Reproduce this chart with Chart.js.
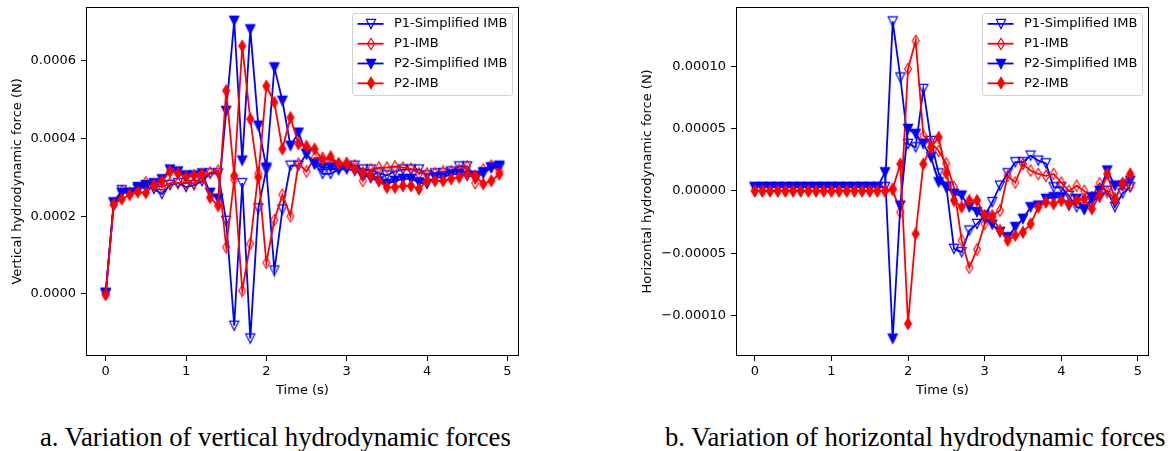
<!DOCTYPE html>
<html><head><meta charset="utf-8">
<script src="https://cdn.jsdelivr.net/npm/chart.js@4.4.1/dist/chart.umd.min.js"></script>
<style>
html,body{margin:0;padding:0;background:#fff;}
#wrap{position:relative;width:1171px;height:451px;overflow:hidden;background:#fff;}
canvas{position:absolute;top:0;}
#c1{left:0;}
#c2{left:600px;}
.cap{position:absolute;font-family:'Liberation Serif','Times New Roman',serif;font-size:26.7px;white-space:nowrap;color:#000;line-height:30px;}
</style></head><body>
<div id="wrap">
<canvas id="c1" width="560" height="410"></canvas>
<canvas id="c2" width="571" height="410"></canvas>
<div class="cap" style="left:40px;top:422px;">a. Variation of vertical hydrodynamic forces</div>
<div class="cap" style="left:665px;top:422px;">b. Variation of horizontal hydrodynamic forces</div>
</div>
<script>
// ---- data ----
const times = [0.0,0.1,0.2,0.3,0.4,0.5,0.6,0.7,0.8,0.9,1.0,1.1,1.2,1.3,1.4,1.5,1.6,1.7,1.8,1.9,2.0,2.1,2.2,2.3,2.4,2.5,2.6,2.7,2.8,2.9,3.0,3.1,3.2,3.3,3.4,3.5,3.6,3.7,3.8,3.9,4.0,4.1,4.2,4.3,4.4,4.5,4.6,4.7,4.8,4.9];
const seriesNames = ['P1-Simplified IMB','P1-IMB','P2-Simplified IMB','P2-IMB'];
const xTickValues = [0,1,2,3,4,5];
const xTickLabels = ['0','1','2','3','4','5'];
const vertTickValues = [0,0.0002,0.0004,0.0006];
const vertTickLabels = ['0.0000','0.0002','0.0004','0.0006'];
const horzTickValues = [-0.0001,-0.00005,0,0.00005,0.0001];
const horzTickLabels = ['\u22120.00010','\u22120.00005','0.00000','0.00005','0.00010'];

// vertical force, values in units of 1e-4 N
const vertUnit = 1e-4;
const vertP1Simplified = [0.0,2.35,2.67,2.6,2.7,2.75,2.7,2.57,2.8,2.85,2.75,2.8,2.9,3.1,3.1,1.88,-0.82,2.85,-1.15,2.2,3.2,0.6,2.17,3.3,3.3,3.6,3.35,3.09,3.09,3.2,3.25,3.3,3.2,3.2,3.1,3.05,3.15,3.2,3.2,3.2,3.05,3.1,3.1,3.15,3.28,3.28,3.0,3.1,3.25,3.25];
const vertP1IMB = [0.0,2.3,2.65,2.6,2.7,2.87,2.8,2.75,2.85,2.85,2.85,2.85,3.0,3.12,3.17,1.2,2.95,0.08,1.29,3.1,0.8,1.9,2.55,2.0,3.35,3.15,3.5,3.5,3.45,3.35,3.37,3.3,2.91,3.2,3.25,3.25,3.28,3.25,3.22,3.1,3.1,3.1,3.15,3.15,3.2,3.28,2.85,3.2,3.3,3.15];
const vertP2Simplified = [0.03,2.35,2.6,2.6,2.75,2.8,2.85,2.95,3.2,3.15,3.05,3.05,3.1,2.6,2.45,4.71,7.03,3.43,6.81,4.33,3.25,5.83,4.97,3.81,4.15,3.6,3.34,3.25,3.25,3.2,3.21,3.17,3.08,2.98,2.9,2.83,2.91,2.96,2.96,2.87,2.83,3.0,3.0,3.08,3.08,3.04,3.04,3.13,3.25,3.3];
const vertP2IMB = [-0.02,2.3,2.44,2.55,2.62,2.6,2.8,2.9,3.15,3.1,3.0,3.05,3.08,2.48,2.27,5.23,3.04,6.38,4.5,3.0,5.35,4.93,3.73,4.54,3.86,3.8,3.73,3.45,3.53,3.35,3.34,3.21,3.13,3.04,2.91,2.74,2.74,2.78,2.78,2.7,2.91,2.91,2.91,2.96,3.0,3.08,3.04,2.83,2.91,3.08];

// horizontal force, values in units of 1e-5 N
const horzUnit = 1e-5;
const horzP1Simplified = [0.3,0.3,0.3,0.3,0.3,0.3,0.3,0.3,0.3,0.3,0.3,0.3,0.3,0.3,0.3,0.3,0.3,0.3,13.6,9.1,3.77,3.5,8.17,4.0,1.4,0.35,-4.65,-4.92,-3.18,-2.65,-2.0,-0.9,0.42,1.41,2.3,2.3,2.83,2.43,2.21,0.29,0.29,-0.4,-1.31,-1.44,-0.8,-0.53,0.0,-1.3,-0.2,0.3];
const horzP1IMB = [0,0,0,0,0,0,0,0,0,0,0,0,0,0,0,0,0,0,0.1,-1.71,9.78,12.04,4.43,3.9,3.2,2.2,0.3,-3.98,-6.15,-4.7,-2.65,-1.98,-1.58,1.2,0.67,2.16,1.63,1.36,1.2,1.36,0.67,0.0,0.42,0.0,-0.5,0.6,-0.1,-0.6,0.5,0.4];
const horzP2Simplified = [0.3,0.3,0.3,0.3,0.3,0.3,0.3,0.3,0.3,0.3,0.3,0.3,0.3,0.3,0.3,0.3,0.3,1.49,-11.86,-1.18,4.97,4.57,3.77,2.69,0.69,0.29,-0.24,-0.38,-1.31,-1.7,-2.2,-2.7,-3.3,-3.72,-2.9,-2.24,-1.31,-1.18,-0.64,-0.51,-0.51,-1.18,-0.64,-1.5,-0.51,0.0,1.63,0.42,0.42,0.82];
const horzP2IMB = [0,0,0,0,0,0,0,0,0,0,0,0,0,0,0,0,0,0,0.16,2.16,-10.66,-3.45,2.16,3.5,4.3,1.4,-0.77,-1.3,-0.77,-0.77,-1.97,-2.1,-3.18,-3.98,-3.58,-3.32,-2.65,-1.31,-0.91,-1.04,-0.78,-1.04,-0.78,-0.64,-1.44,-0.37,1.36,-0.7,0.62,1.36];

// ---- styling ----
const seriesStyles = [
  {color:'#0000ff', kind:'tri', filled:false},
  {color:'#ff0000', kind:'dia', filled:false},
  {color:'#0000ff', kind:'tri', filled:true},
  {color:'#ff0000', kind:'dia', filled:true}
];
const FONT = 'DejaVu Sans';
Chart.defaults.font.family = FONT;
Chart.defaults.font.size = 13;
Chart.defaults.color = '#000';

function markerCanvas(kind, color, filled) {
  const s = 18, m = 9;
  const c = document.createElement('canvas'); c.width = s; c.height = s;
  const g = c.getContext('2d');
  g.beginPath();
  if (kind === 'tri') {
    const h = 4.6;
    g.moveTo(m - h, m - h); g.lineTo(m + h, m - h); g.lineTo(m, m + h);
  } else {
    const hh = 5.7, hw = 3.4;
    g.moveTo(m, m - hh); g.lineTo(m + hw, m); g.lineTo(m, m + hh); g.lineTo(m - hw, m);
  }
  g.closePath();
  if (filled) { g.fillStyle = color; g.fill(); }
  g.lineWidth = 1.2; g.strokeStyle = color; g.lineJoin = 'miter'; g.stroke();
  return c;
}

const frameLegendPlugin = {
  id: 'frameLegend',
  afterDraw(chart) {
    const {ctx, chartArea: a} = chart;
    ctx.save();
    ctx.strokeStyle = '#000'; ctx.lineWidth = 1;
    ctx.strokeRect(Math.round(a.left) + 0.5, Math.round(a.top) + 0.5,
                   Math.round(a.right - a.left) - 1, Math.round(a.bottom - a.top) - 1);
    const fs = 13;
    ctx.font = fs + 'px "' + FONT + '"';
    const ds = chart.data.datasets;
    let tw = 0;
    ds.forEach(d => { tw = Math.max(tw, ctx.measureText(d.label).width); });
    const pad = 0.4 * fs, hl = 2 * fs, htp = 0.8 * fs;
    const w = pad + hl + htp + tw + pad;
    const rowH = 19.8, h = 82.3;
    const right = a.right - 0.5 * fs, top = a.top + 0.5 * fs;
    const left = right - w;
    ctx.beginPath();
    ctx.roundRect(Math.round(left) + 0.5, Math.round(top) + 0.5, Math.round(w), Math.round(h), 2.6);
    ctx.fillStyle = 'rgba(255,255,255,0.8)'; ctx.fill();
    ctx.strokeStyle = 'rgba(204,204,204,0.9)'; ctx.lineWidth = 1; ctx.stroke();
    ds.forEach((d, i) => {
      const y = top + 10.6 + i * rowH;
      ctx.beginPath(); ctx.moveTo(left + pad, y); ctx.lineTo(left + pad + hl, y);
      ctx.strokeStyle = d.borderColor; ctx.lineWidth = d.borderWidth; ctx.stroke();
      const img = d.pointStyle;
      ctx.drawImage(img, Math.round(left + pad + hl / 2 - img.width / 2), Math.round(y - img.height / 2));
      ctx.fillStyle = '#000'; ctx.textBaseline = 'middle'; ctx.textAlign = 'left';
      ctx.fillText(d.label, left + pad + hl + htp, y);
    });
    ctx.restore();
  }
};

function makeChart(id, seriesList, unit, yMin, yMax, yTickValues, yTickLabels, yTitle, yAxisWidth, yTitlePad, rightPad) {
  const datasets = seriesList.map((vals, i) => {
    const st = seriesStyles[i];
    return {
      label: seriesNames[i],
      data: times.map((t, k) => ({x: t, y: vals[k] * unit})),
      borderColor: st.color,
      backgroundColor: st.color,
      borderWidth: 1.8,
      tension: 0,
      fill: false,
      pointStyle: markerCanvas(st.kind, st.color, st.filled),
      pointRadius: 5,
      pointHoverRadius: 5,
      order: 4 - i
    };
  });
  return new Chart(document.getElementById(id), {
    type: 'line',
    data: {datasets},
    plugins: [frameLegendPlugin],
    options: {
      responsive: false, animation: false, devicePixelRatio: 1, events: [],
      layout: {padding: {left: 0, top: 6, right: rightPad, bottom: 0}},
      plugins: {legend: {display: false}, tooltip: {enabled: false}},
      scales: {
        x: {
          type: 'linear', min: -0.245, max: 5.145,
          afterBuildTicks: s => { s.ticks = xTickValues.map(v => ({value: v})); },
          afterFit: s => { s.height = 54; s.paddingLeft = 0; s.paddingRight = 0; },
          ticks: {autoSkip: false, maxRotation: 0, minRotation: 0, padding: 3, color: '#000', font: {size: 13},
                  callback: (v, i) => xTickLabels[i]},
          grid: {drawOnChartArea: false, drawTicks: true, tickLength: 5, color: '#000', lineWidth: 1},
          border: {display: false},
          title: {display: true, text: 'Time (s)', color: '#000', font: {size: 13}, padding: {top: 0, bottom: 12}}
        },
        y: {
          type: 'linear', min: yMin, max: yMax,
          afterBuildTicks: s => { s.ticks = yTickValues.map(v => ({value: v})); },
          afterFit: s => { s.width = yAxisWidth; s.paddingTop = 0; s.paddingBottom = 0; },
          ticks: {autoSkip: false, padding: 5, color: '#000', font: {size: 13},
                  callback: (v, i) => yTickLabels[i]},
          grid: {drawOnChartArea: false, drawTicks: true, tickLength: 5, color: '#000', lineWidth: 1},
          border: {display: false},
          title: {display: true, text: yTitle, color: '#000', font: {size: 13}, padding: {top: yTitlePad, bottom: 0}}
        }
      }
    }
  });
}

makeChart('c1', [vertP1Simplified, vertP1IMB, vertP2Simplified, vertP2IMB], vertUnit,
  -0.00016, 0.000739, vertTickValues, vertTickLabels, 'Vertical hydrodynamic force (N)', 86, 10.2, 41);
makeChart('c2', [horzP1Simplified, horzP1IMB, horzP2Simplified, horzP2IMB], horzUnit,
  -0.0001325, 0.0001477, horzTickValues, horzTickLabels, 'Horizontal hydrodynamic force (N)', 136, 40.2, 22);
</script>
</body></html>
